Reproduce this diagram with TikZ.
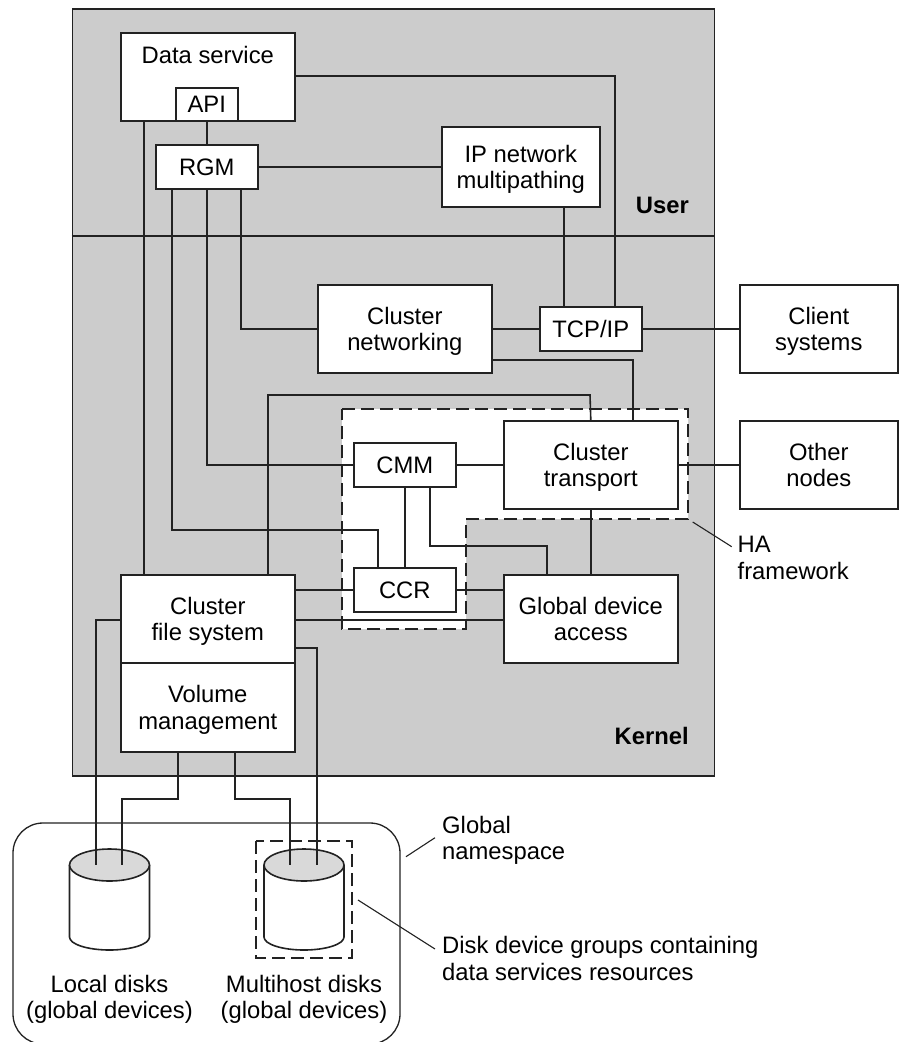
\documentclass[tikz,border=0pt]{standalone}
\usepackage{fontspec}
\setmainfont{Liberation Sans}
\definecolor{panelgray}{HTML}{CCCCCC}
\definecolor{diskgray}{HTML}{D9D9D9}
\definecolor{ink}{HTML}{222222}
\newcommand{\mainsize}{\fontsize{23.8}{26.7}\selectfont}
\tikzset{
  box/.style={draw=ink,fill=white,line width=1.6pt,inner sep=0pt,align=center,anchor=north west,text=black,text depth=0pt,font=\mainsize},
  wire/.style={draw=ink,line width=1.6pt},
  leader/.style={draw=ink,line width=1.1pt},
  label/.style={inner sep=0pt,align=left,anchor=north west,text=black,font=\mainsize},
  tag/.style={inner sep=0pt,anchor=base east,font=\mainsize\bfseries,text=black},
  disklabel/.style={inner sep=0pt,align=center,anchor=north,text=black,font=\mainsize},
  dashline/.style={draw=ink,line width=1.3pt,dash pattern=on 13pt off 6pt},
}
\newcommand{\drum}[1]{%
  \draw[wire,fill=white] (#1-40,865) -- (#1-40,937) arc[start angle=180,end angle=360,x radius=40pt,y radius=13pt] -- (#1+40,865);
  \draw[wire,fill=diskgray] (#1,865) ellipse[x radius=40pt,y radius=16pt];
}
\begin{document}
\begin{tikzpicture}[x=1pt,y=-1pt]
\useasboundingbox (0,0) rectangle (905,1042);
\clip (0,0) rectangle (905,1042);
% panel
\node[draw=ink,fill=panelgray,line width=1.6pt,inner sep=0pt,minimum width=642pt,minimum height=767pt,anchor=north west] (panel) at (71.5,8) {};
\coordinate (divl) at (71.5,236);
\draw[wire] (divl) -- (divl -| panel.east);
% HA framework region
\draw[dashline,fill=white] (342,409) -- (688,409) -- (688,519) -- (466,519) -- (466,629) -- (342,629) -- cycle;
% global namespace
\draw[wire,rounded corners=30pt,line width=1.3pt] (13,823) rectangle (400,1044);
\drum{109.5}
\drum{304}
\draw[dashline,line width=1.2pt] (256,841) rectangle (352,958);
\coordinate (da) at (96,865);
\coordinate (db) at (122,865);
\coordinate (dc) at (290,865);
\coordinate (dd) at (317,865);
% boxes
\node[box,minimum width=174pt,minimum height=88pt] (ds) at (120,32) {Data service\\[16.9pt]\mbox{}};
\node[box,minimum width=62pt,minimum height=33pt] (api) at (175,87) {API};
\node[box,minimum width=102pt,minimum height=44pt] (rgm) at (155,144) {RGM};
\node[box,minimum width=158pt,minimum height=80pt] (ip) at (441,126) {IP network\\multipathing};
\node[box,minimum width=174pt,minimum height=88pt] (net) at (317,284) {Cluster\\networking};
\node[box,minimum width=102pt,minimum height=44pt] (tcp) at (539,306) {TCP/IP};
\node[box,minimum width=158pt,minimum height=88pt] (client) at (739,284) {Client\\systems};
\node[box,minimum width=158pt,minimum height=88pt] (other) at (739,420) {Other\\nodes};
\node[box,minimum width=174pt,minimum height=88pt] (trans) at (503,420) {Cluster\\transport};
\node[box,minimum width=102pt,minimum height=44pt] (cmm) at (353,442) {CMM};
\node[box,minimum width=102pt,minimum height=44pt] (ccr) at (353,567) {CCR};
\node[box,minimum width=174pt,minimum height=88pt] (gda) at (503,574) {Global device\\access};
\node[box,minimum width=174pt,minimum height=88pt] (cfs) at (120,574) {Cluster\\file system};
\node[box,minimum width=174pt,minimum height=89pt] (vol) at (120,662) {Volume\\management};
% connectors
\draw[wire] (ds.east |- 0,76) -| (tcp.north -| 615,0);
\draw[wire] (api.south) -- (rgm.north);
\draw[wire] (rgm.east) -- (rgm.east -| ip.west);
\draw[wire] (ip.south -| 564,0) -- (tcp.north -| 564,0);
\draw[wire] (rgm.south -| 241,0) |- (net.west);
\draw[wire] (rgm.south) |- (cmm.west);
\draw[wire] (rgm.south -| 172,0) |- (378,530) -- (ccr.north -| 378,0);
\draw[wire] (ds.south -| 144,0) -- (cfs.north -| 144,0);
\draw[wire] (net.east |- tcp.west) -- (tcp.west);
\draw[wire] (tcp.east) -- (tcp.east -| client.west);
\draw[wire] (net.east |- 0,360) -| (trans.north -| 633,0);
\draw[wire] (cfs.north -| 268,0) |- (590,395) -- (trans.north);
\draw[wire] (cmm.east) -- (cmm.east -| trans.west);
\draw[wire] (trans.east) -- (trans.east -| other.west);
\draw[wire] (cmm.south) -- (ccr.north);
\draw[wire] (cmm.south -| 430,0) |- (547,546) -- (gda.north -| 547,0);
\draw[wire] (trans.south) -- (gda.north);
\draw[wire] (ccr.east) -- (ccr.east -| gda.west);
\draw[wire] (ccr.west) -- (ccr.west -| cfs.east);
\draw[wire] (cfs.east |- 0,620) -- (gda.west |- 0,620);
\draw[wire] (cfs.west |- 0,620) -| (da);
\draw[wire] (cfs.east |- 0,648) -| (dd);
\draw[wire] (vol.south -| 178,0) |- (122,799) -- (db);
\draw[wire] (vol.south -| 235,0) |- (290,799) -- (dc);
% labels
\node[tag] (user) at (689,213) {User};
\node[tag] (kernel) at (689,744) {Kernel};
\node[label] (ha) at (737.5,536) {HA\\framework};
\coordinate (hal) at (692.7,522);
\draw[leader] (hal) -- (731.7,546.7);
\node[label] (gn) at (442,815.7) {Global\\namespace};
\coordinate (gnl) at (406,856.7);
\draw[leader] (gnl) -- (435,837.7);
\node[label] (dg) at (442,936) {Disk device groups containing\\data services resources};
\coordinate (dgl) at (358,900);
\draw[leader] (dgl) -- (435,949);
\node[disklabel] (ld) at (109.5,974.7) {Local disks\\(global devices)};
\node[disklabel] (md) at (304,974.7) {Multihost disks\\(global devices)};
\end{tikzpicture}
\end{document}
